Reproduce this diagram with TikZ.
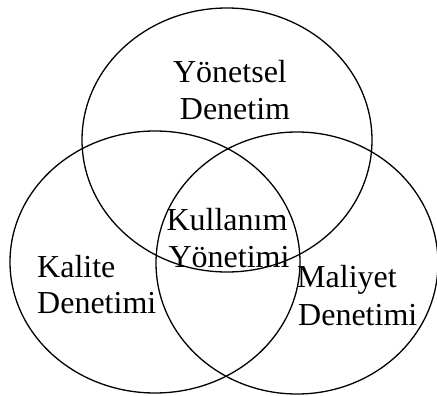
\documentclass[tikz,border=0pt]{standalone}
\usepackage{fontspec}
\setmainfont{Liberation Serif}
\begin{document}
\begin{tikzpicture}[x=1pt,y=-1pt,
  ring/.style={draw=black,line width=1.3pt},
  lbl/.style={inner sep=0pt,font=\fontsize{32}{38}\selectfont}]
\useasboundingbox (0,0) rectangle (437,396);
\draw[ring] (227,140) ellipse [x radius=145,y radius=132];
\draw[ring] (155,262) ellipse [x radius=145,y radius=131];
\draw[ring] (297,263) ellipse [x radius=141,y radius=131];
\node[lbl,anchor=base] (y1) at (230,83) {Yönetsel};
\node[lbl,anchor=base] (y2) at (235,120) {Denetim};
\node[lbl,anchor=base] (k1) at (227,230) {Kullanım};
\node[lbl,anchor=base] (k2) at (229,267) {Yönetimi};
\node[lbl,anchor=base west] (q1) at (37,277) {Kalite};
\node[lbl,anchor=base west] (q2) at (37,313) {Denetimi};
\node[lbl,anchor=base west] (m1) at (297,287) {Maliyet};
\node[lbl,anchor=base west] (m2) at (298,325) {Denetimi};
\end{tikzpicture}
\end{document}
